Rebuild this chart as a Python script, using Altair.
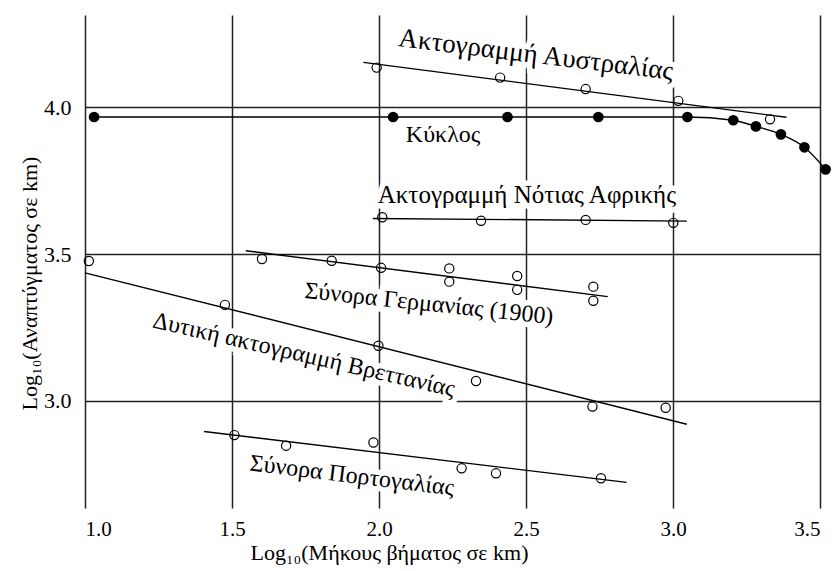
import altair as alt
import pandas as pd

# --- data ---
circle_x = [1.031, 2.048, 2.437, 2.746, 3.049, 3.205, 3.282, 3.367, 3.447, 3.519]
circle_y = [3.966, 3.966, 3.966, 3.966, 3.966, 3.955, 3.934, 3.907, 3.863, 3.788]

australia_x = [1.992, 2.412, 2.703, 3.018, 3.330]
australia_y = [4.134, 4.100, 4.061, 4.021, 3.958]
australia_fit_x = [1.947, 3.386]
australia_fit_y = [4.152, 3.965]

safrica_x = [2.011, 2.347, 2.703, 3.001]
safrica_y = [3.625, 3.613, 3.616, 3.606]
safrica_fit_x = [1.979, 3.047]
safrica_fit_y = [3.621, 3.612]

germany_x = [1.602, 1.839, 2.007, 2.239, 2.239, 2.470, 2.470, 2.729, 2.729]
germany_y = [3.483, 3.477, 3.453, 3.451, 3.406, 3.425, 3.378, 3.389, 3.341]
germany_fit_x = [1.547, 2.778]
germany_fit_y = [3.511, 3.355]

britain_x = [1.013, 1.476, 1.998, 2.330, 2.726, 2.975]
britain_y = [3.476, 3.327, 3.188, 3.068, 2.981, 2.977]
britain_fit_x = [1.000, 3.047]
britain_fit_y = [3.436, 2.921]

portugal_x = [1.508, 1.684, 1.981, 2.281, 2.398, 2.755]
portugal_y = [2.884, 2.848, 2.859, 2.771, 2.754, 2.737]
portugal_fit_x = [1.405, 2.842]
portugal_fit_y = [2.896, 2.723]

label_text = ["Ακτογραμμή Αυστραλίας", "Κύκλος", "Ακτογραμμή Νότιας Αφρικής",
              "Σύνορα Γερμανίας (1900)", "Δυτική ακτογραμμή Βρεττανίας", "Σύνορα Πορτογαλίας"]
label_x = [2.534, 2.218, 2.503, 2.170, 1.745, 1.908]
label_y = [4.177, 3.905, 3.701, 3.330, 3.156, 2.745]
label_angle = [7, 0, 0, 6, 13, 7]
label_size = [27, 24, 25, 24, 24, 24]

x_ticks = [1.0, 1.5, 2.0, 2.5, 3.0, 3.5]
y_ticks = [3.0, 3.5, 4.0]

# --- tables ---
def frame(name, xs, ys):
    return pd.DataFrame({"series": name, "x": xs, "y": ys})

open_pts = pd.concat([
    frame("Australia", australia_x, australia_y),
    frame("SouthAfrica", safrica_x, safrica_y),
    frame("Germany", germany_x, germany_y),
    frame("Britain", britain_x, britain_y),
    frame("Portugal", portugal_x, portugal_y),
])
fits = pd.concat([
    frame("Australia", australia_fit_x, australia_fit_y),
    frame("SouthAfrica", safrica_fit_x, safrica_fit_y),
    frame("Germany", germany_fit_x, germany_fit_y),
    frame("Britain", britain_fit_x, britain_fit_y),
    frame("Portugal", portugal_fit_x, portugal_fit_y),
])
circle = frame("Circle", circle_x, circle_y)
labels = pd.DataFrame({"label": label_text, "x": label_x, "y": label_y,
                       "angle": label_angle, "fsize": label_size})

FONT = "'Liberation Serif', 'Times New Roman', 'DejaVu Serif', serif"

X = alt.X("x:Q", scale=alt.Scale(domain=[1.0, 3.5], nice=False, zero=False),
          axis=alt.Axis(values=x_ticks, format=".1f", grid=True, gridColor="#222222",
                        gridWidth=1.5, domain=False, ticks=False,
                        labelFont=FONT, labelFontSize=21, labelColor="black", labelPadding=10,
                        title="Log₁₀(Μήκους βήματος σε km)", titleFont=FONT, titleFontSize=22,
                        titleFontWeight="normal", titleColor="black",
                        titleX=304, titleY=51, titleBaseline="alphabetic", titleAlign="center"))
Y = alt.Y("y:Q", scale=alt.Scale(domain=[2.636, 4.313], nice=False, zero=False),
          axis=alt.Axis(values=y_ticks, format=".1f", grid=True, gridColor="#222222",
                        gridWidth=1.5, domain=False, ticks=False,
                        labelFont=FONT, labelFontSize=22, labelColor="black", labelPadding=14,
                        title="Log₁₀(Αναπτύγματος σε km)", titleFont=FONT, titleFontSize=22,
                        titleFontWeight="normal", titleColor="black",
                        titleX=-49, titleY=268, titleBaseline="alphabetic", titleAlign="center",
                        titleAngle=270))

label_enc = dict(x=X, y=Y, text="label:N",
                 angle=alt.Angle("angle:Q", scale=None),
                 size=alt.Size("fsize:Q", scale=None, legend=None))

halo = alt.Chart(labels).mark_text(font=FONT, stroke="white", strokeWidth=11,
                                   fill="white", baseline="middle", align="center").encode(**label_enc)

fit_lines = alt.Chart(fits).mark_line(color="black", strokeWidth=1.4).encode(
    x=X, y=Y, detail="series:N")

circle_line = alt.Chart(circle).mark_line(color="black", strokeWidth=1.4,
                                          interpolate="monotone").encode(x=X, y=Y)

open_marks = alt.Chart(open_pts).mark_point(shape="circle", filled=False, size=85,
                                            color="black", strokeWidth=1.2, opacity=1).encode(x=X, y=Y)

filled_marks = alt.Chart(circle).mark_circle(size=115, color="black", opacity=1).encode(x=X, y=Y)

text = alt.Chart(labels).mark_text(font=FONT, color="black",
                                   baseline="middle", align="center").encode(**label_enc)

chart = alt.layer(halo, fit_lines, circle_line, open_marks, filled_marks, text).properties(
    width=735, height=493,
    autosize=alt.AutoSizeParams(type="none"),
    padding={"left": 77, "top": 7, "right": 12, "bottom": 60},
    background="white",
).configure_view(stroke=None)

chart.save("out.html", embed_options={"renderer": "svg", "actions": False})
